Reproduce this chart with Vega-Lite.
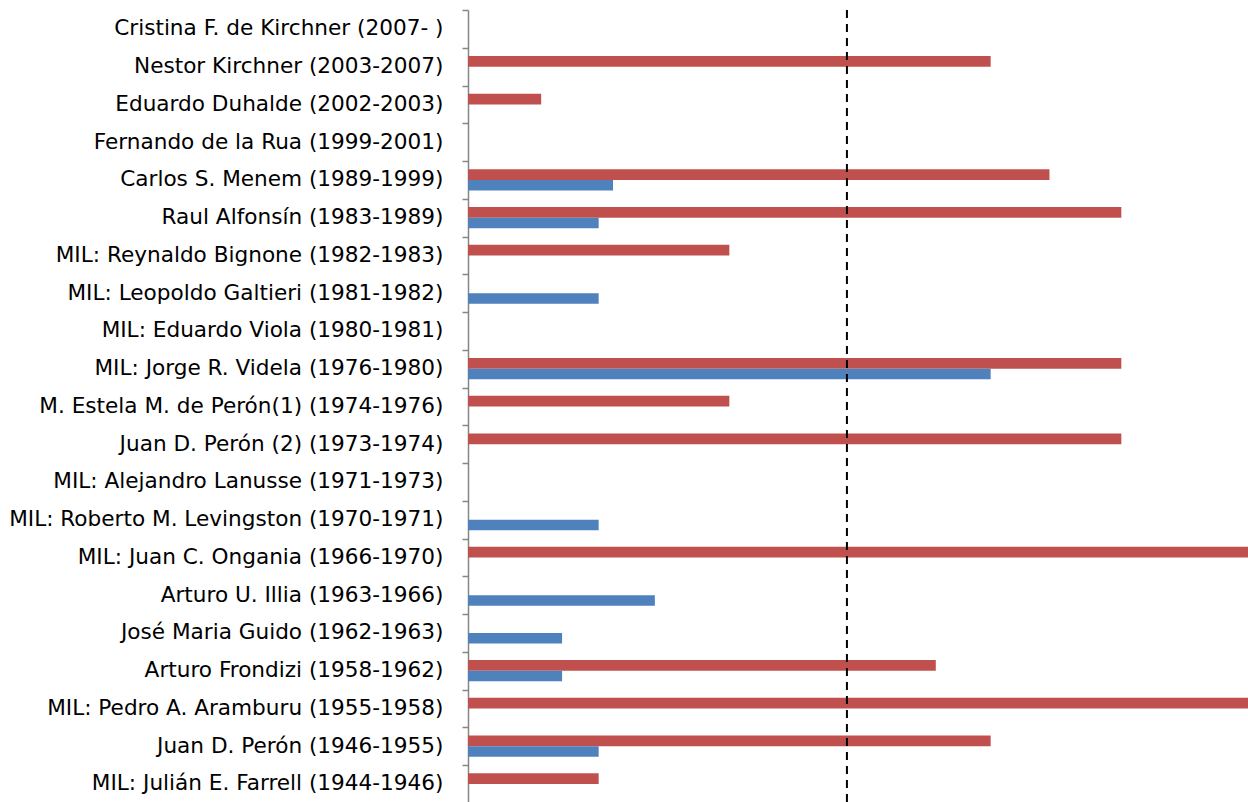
{
  "$schema": "https://vega.github.io/schema/vega-lite/v6.json",
  "autosize": "none",
  "padding": {"left": 468, "top": 10, "right": 0, "bottom": 0},
  "width": 784,
  "height": 792.75,
  "background": "white",
  "config": {"view": {"stroke": null}},
  "datasets": {
    "bars": [
      {"presidente": "Nestor Kirchner (2003-2007)", "serie": "Serie 1", "valor": 4.0},
      {"presidente": "Eduardo Duhalde (2002-2003)", "serie": "Serie 1", "valor": 0.56},
      {"presidente": "Carlos S. Menem (1989-1999)", "serie": "Serie 1", "valor": 4.45},
      {"presidente": "Carlos S. Menem (1989-1999)", "serie": "Serie 2", "valor": 1.11},
      {"presidente": "Raul Alfonsín (1983-1989)", "serie": "Serie 1", "valor": 5.0},
      {"presidente": "Raul Alfonsín (1983-1989)", "serie": "Serie 2", "valor": 1.0},
      {"presidente": "MIL: Reynaldo Bignone (1982-1983)", "serie": "Serie 1", "valor": 2.0},
      {"presidente": "MIL: Leopoldo Galtieri (1981-1982)", "serie": "Serie 2", "valor": 1.0},
      {"presidente": "MIL: Jorge R. Videla (1976-1980)", "serie": "Serie 1", "valor": 5.0},
      {"presidente": "MIL: Jorge R. Videla (1976-1980)", "serie": "Serie 2", "valor": 4.0},
      {"presidente": "M. Estela M. de Perón(1) (1974-1976)", "serie": "Serie 1", "valor": 2.0},
      {"presidente": "Juan D. Perón (2) (1973-1974)", "serie": "Serie 1", "valor": 5.0},
      {"presidente": "MIL: Roberto M. Levingston (1970-1971)", "serie": "Serie 2", "valor": 1.0},
      {"presidente": "MIL: Juan C. Ongania (1966-1970)", "serie": "Serie 1", "valor": 6.0},
      {"presidente": "Arturo U. Illia (1963-1966)", "serie": "Serie 2", "valor": 1.43},
      {"presidente": "José Maria Guido (1962-1963)", "serie": "Serie 2", "valor": 0.72},
      {"presidente": "Arturo Frondizi (1958-1962)", "serie": "Serie 1", "valor": 3.58},
      {"presidente": "Arturo Frondizi (1958-1962)", "serie": "Serie 2", "valor": 0.72},
      {"presidente": "MIL: Pedro A. Aramburu (1955-1958)", "serie": "Serie 1", "valor": 6.0},
      {"presidente": "Juan D. Perón (1946-1955)", "serie": "Serie 1", "valor": 4.0},
      {"presidente": "Juan D. Perón (1946-1955)", "serie": "Serie 2", "valor": 1.0},
      {"presidente": "MIL: Julián E. Farrell (1944-1946)", "serie": "Serie 1", "valor": 1.0}
    ],
    "referencia": [{"valor": 2.9}]
  },
  "layer": [
    {
      "data": {"name": "bars"},
      "mark": {"type": "bar", "clip": true},
      "encoding": {
        "y": {
          "field": "presidente",
          "type": "nominal",
          "scale": {
            "domain": [
              "Cristina F. de Kirchner (2007- )",
              "Nestor Kirchner (2003-2007)",
              "Eduardo Duhalde (2002-2003)",
              "Fernando de la Rua (1999-2001)",
              "Carlos S. Menem (1989-1999)",
              "Raul Alfonsín (1983-1989)",
              "MIL: Reynaldo Bignone (1982-1983)",
              "MIL: Leopoldo Galtieri (1981-1982)",
              "MIL: Eduardo Viola (1980-1981)",
              "MIL: Jorge R. Videla (1976-1980)",
              "M. Estela M. de Perón(1) (1974-1976)",
              "Juan D. Perón (2) (1973-1974)",
              "MIL: Alejandro Lanusse (1971-1973)",
              "MIL: Roberto M. Levingston (1970-1971)",
              "MIL: Juan C. Ongania (1966-1970)",
              "Arturo U. Illia (1963-1966)",
              "José Maria Guido (1962-1963)",
              "Arturo Frondizi (1958-1962)",
              "MIL: Pedro A. Aramburu (1955-1958)",
              "Juan D. Perón (1946-1955)",
              "MIL: Julián E. Farrell (1944-1946)"
            ],
            "paddingInner": 0,
            "paddingOuter": 0
          },
          "axis": {
            "title": null,
            "tickBand": "extent",
            "tickSize": 6,
            "tickColor": "#868686",
            "tickWidth": 1.5,
            "domainColor": "#868686",
            "domainWidth": 1.5,
            "labelFont": "DejaVu Sans",
            "labelFontSize": 21.6,
            "labelColor": "#000000",
            "labelPadding": 19,
            "labelLimit": 0
          }
        },
        "yOffset": {
          "field": "serie",
          "type": "nominal",
          "scale": {"domain": ["Serie 1", "Serie 2"], "paddingInner": 0, "paddingOuter": 0.78}
        },
        "x": {
          "field": "valor",
          "type": "quantitative",
          "scale": {"domain": [0, 6], "nice": false, "zero": true},
          "axis": null
        },
        "color": {
          "field": "serie",
          "type": "nominal",
          "scale": {"domain": ["Serie 1", "Serie 2"], "range": ["#C0504D", "#4F81BD"]},
          "legend": null
        }
      }
    },
    {
      "data": {"name": "referencia"},
      "mark": {"type": "rule", "color": "#000000", "strokeWidth": 2, "strokeDash": [8, 6]},
      "encoding": {
        "x": {"field": "valor", "type": "quantitative"}
      }
    }
  ]
}
